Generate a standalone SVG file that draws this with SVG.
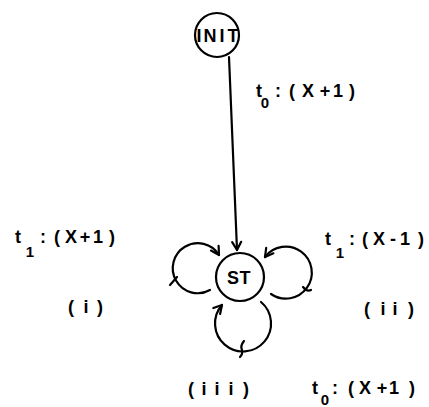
<svg xmlns="http://www.w3.org/2000/svg" width="429" height="407" viewBox="0 0 429 407">
<defs>
<marker id="arr" markerWidth="12" markerHeight="12" refX="10" refY="6" orient="auto" markerUnits="userSpaceOnUse">
<path d="M2,1.5 L10,6 L2,10.5" fill="none" stroke="#000" stroke-width="2.2" stroke-linecap="round" stroke-linejoin="round"/>
</marker>
</defs>
<style>
.node{fill:#fff;stroke:#000;stroke-width:2.2}
.edge{fill:none;stroke:#000;stroke-width:2.2;stroke-linecap:round}
.lbl{font-family:"Liberation Sans",Arial,sans-serif;font-weight:bold;font-size:18px;fill:#000;text-anchor:middle}
.sub{font-family:"Liberation Sans",Arial,sans-serif;font-weight:bold;font-size:15px;fill:#000;text-anchor:middle}
</style>
<rect width="429" height="407" fill="#fff"/>
<g id="connectors">
<path class="edge" d="M229,57 L237,250" marker-end="url(#arr)"/>
<path class="edge" d="M210,290 A25,25 0 1 1 219,255" marker-end="url(#arr)"/>
<path class="edge" d="M271,294 A26,26 0 1 0 265,257" marker-end="url(#arr)"/>
<path class="edge" d="M261,302 A28,28 0 1 1 222,305" marker-end="url(#arr)"/>
<path class="edge" d="M170,285 L177,277"/>
<path class="edge" d="M303,287 Q307,292 311,290"/>
<path class="edge" d="M244,341 Q240,346 242,350 Q243,354 240,357"/>
</g>
<g id="INIT">
<circle class="node" cx="217" cy="35" r="22"/>
<text class="lbl" x="199 210 222 233" y="42">INIT</text>
</g>
<g id="ST">
<circle class="node" cx="240" cy="277" r="24"/>
<text class="lbl" x="233 245" y="284">ST</text>
</g>
<g id="labels">
<text class="lbl" x="259" y="97">t</text>
<text class="sub" x="265" y="108">0</text>
<text class="lbl" x="278 292 308 325 338 352" y="97">:(X+1)</text>
<text class="lbl" x="18" y="243">t</text>
<text class="sub" x="30" y="257">1</text>
<text class="lbl" x="43 57 71 85 98 112" y="243">:(X+1)</text>
<text class="lbl" x="328" y="245">t</text>
<text class="sub" x="340" y="258">1</text>
<text class="lbl" x="352 365 379 393 405 421" y="245">:(X-1)</text>
<text class="lbl" x="71 86 100" y="313">(i)</text>
<text class="lbl" x="367 383 395 411" y="315">(ii)</text>
<text class="lbl" x="191 204 217 231 246" y="395">(iii)</text>
<text class="lbl" x="315" y="394">t</text>
<text class="sub" x="325" y="405">0</text>
<text class="lbl" x="335 351 365 382 394 412" y="394">:(X+1)</text>
</g>
</svg>
